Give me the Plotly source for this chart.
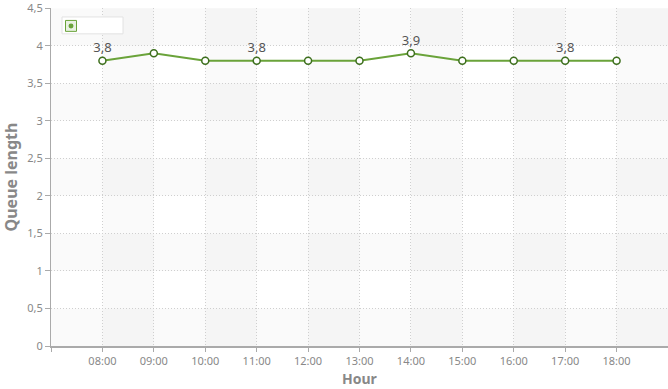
import plotly.graph_objects as go

hours = ["08:00", "09:00", "10:00", "11:00", "12:00", "13:00",
         "14:00", "15:00", "16:00", "17:00", "18:00"]
queue = [3.8, 3.9, 3.8, 3.8, 3.8, 3.8, 3.9, 3.8, 3.8, 3.8, 3.8]
y_ticks = [0, 0.5, 1, 1.5, 2, 2.5, 3, 3.5, 4, 4.5]

xi = list(range(len(hours)))
labels = [(f"{v:.1f}".replace(".", ",") if i % 3 == 0 else "") for i, v in enumerate(queue)]

LINE = "#6aa33a"
EDGE = "#3d6f1d"

fig = go.Figure()
fig.add_trace(go.Scatter(
    x=xi, y=queue, mode="lines+markers+text",
    name="", showlegend=False,
    text=labels, textposition="top center",
    textfont=dict(family="Noto Sans", size=13, color="#555555"),
    line=dict(color=LINE, width=2),
    marker=dict(size=7, color="white", line=dict(color=EDGE, width=1.5)),
))

shapes = []
# alternating vertical bands
for i in range(0, len(hours), 2):
    shapes.append(dict(type="rect", xref="x", yref="paper", x0=i, x1=i + 1, y0=0, y1=1,
                       fillcolor="rgba(0,0,0,0.018)", line=dict(width=0), layer="below"))
# alternating horizontal bands
for j in range(0, len(y_ticks) - 1, 2):
    shapes.append(dict(type="rect", xref="paper", yref="y", x0=0, x1=1,
                       y0=y_ticks[j], y1=y_ticks[j + 1],
                       fillcolor="rgba(0,0,0,0.018)", line=dict(width=0), layer="below"))

# legend box (series has no name) drawn as decoration in paper coords
TOP, BOT = 6, 346
PW, PH = 617.0, float(BOT - TOP)
def px(xp):
    return (xp - 51) / PW
def py(yp):
    return (BOT - yp) / PH
shapes.append(dict(type="rect", xref="paper", yref="paper",
                   x0=px(62), x1=px(123), y0=py(32), y1=py(15),
                   fillcolor="white", line=dict(color="#e2e2e2", width=1), layer="above"))
shapes.append(dict(type="rect", xref="paper", yref="paper",
                   x0=px(65.5), x1=px(76.5), y0=py(29.5), y1=py(18.5),
                   fillcolor="rgba(106,163,58,0.15)", line=dict(color=LINE, width=1), layer="above"))
shapes.append(dict(type="circle", xref="paper", yref="paper",
                   x0=px(68.5), x1=px(73.5), y0=py(26.5), y1=py(21.5),
                   fillcolor=LINE, line=dict(color=LINE, width=0), layer="above"))

annotations = [dict(text="<b>Hour</b>", xref="paper", yref="paper", x=0.5, y=py(389),
                    xanchor="center", yanchor="bottom", showarrow=False, borderpad=0,
                    font=dict(family="Noto Sans", size=14, color="#888888"))]

fig.update_layout(
    width=668, height=389,
    margin=dict(l=51, r=0, t=TOP, b=389 - BOT),
    paper_bgcolor="white", plot_bgcolor="white",
    separators=", ",
    shapes=shapes,
    annotations=annotations,
    showlegend=False,
    font=dict(family="Noto Sans", color="#888888"),
    xaxis=dict(
        range=[-1, 11], tickmode="array", tickvals=[-1] + xi, ticktext=[""] + hours,
        showgrid=True, gridcolor="#cfcfcf", griddash="1px,2px", gridwidth=1,
        showline=True, linecolor="#aaaaaa", linewidth=2,
        ticks="outside", ticklen=4, tickcolor="#aaaaaa",
        tickfont=dict(size=11, color="#888888"),
        zeroline=False,
    ),
    yaxis=dict(
        range=[0, 4.502], tickmode="array", tickvals=y_ticks,
        showgrid=True, gridcolor="#cfcfcf", griddash="1px,2px", gridwidth=1,
        showline=True, linecolor="#aaaaaa", linewidth=1,
        ticks="outside", ticklen=5, tickcolor="#aaaaaa",
        tickfont=dict(size=11, color="#888888"),
        ticklabeloverflow="allow",
        title=dict(text="<b>Queue length</b>", font=dict(size=16, color="#888888"), standoff=8),
        zeroline=False,
    ),
)

fig.write_html("out.html")
